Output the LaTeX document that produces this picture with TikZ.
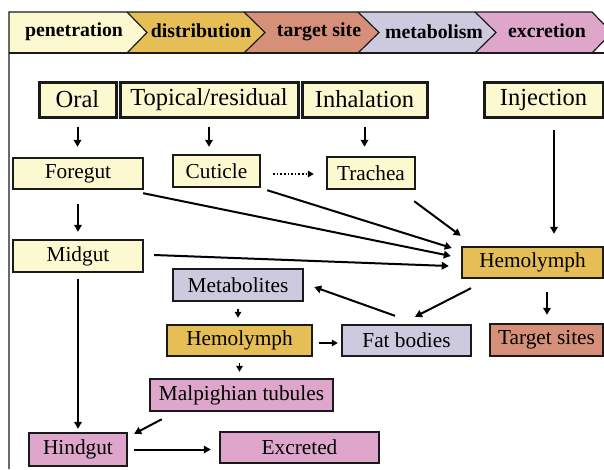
\documentclass[tikz,border=0pt]{standalone}
\usepackage{fontspec}
\setmainfont{Liberation Serif}
\newfontfamily\tnr{Liberation Serif}
\usetikzlibrary{arrows.meta,calc}
\definecolor{cyel}{HTML}{FCF8D0}
\definecolor{cgold}{HTML}{E5BE55}
\definecolor{csalmon}{HTML}{D69079}
\definecolor{clav}{HTML}{CDCADF}
\definecolor{cpink}{HTML}{DEA6CB}
\definecolor{cline}{HTML}{1A1A1A}
\tikzset{
  topbox/.style={draw=cline,line width=3pt,fill=cyel,inner sep=0pt,
    font=\tnr\fontsize{24.5}{27}\selectfont,minimum height=35pt},
  lowbox/.style={draw=cline,line width=2.4pt,inner sep=0pt,
    font=\tnr\fontsize{21.3}{24}\selectfont,minimum height=31pt},
  hdr/.style={draw=cline,line width=1.2pt},
  hdrtext/.style={font=\tnr\fontsize{19.8}{22}\selectfont\bfseries,inner sep=0pt},
  arr/.style={line width=2pt,draw=black,-{Triangle[length=7pt,width=7.5pt]}},
  sarr/.style={line width=1.6pt,draw=black,-{Triangle[length=6pt,width=6.5pt]}},
  dotarr/.style={line width=1.6pt,draw=black,dotted,-{Triangle[length=6pt,width=6.5pt]}}
}
\begin{document}
\begin{tikzpicture}[x=1pt,y=-1pt]
\useasboundingbox (0,0) rectangle (604,469);
% header
\fill[cyel] (9,12) -- (127,12) -- (147,32.5) -- (127,53) -- (9,53) -- cycle;
\fill[cgold] (127,12) -- (244,12) -- (265,32.5) -- (244,53) -- (127,53) -- (147,32.5) -- cycle;
\fill[csalmon] (244,12) -- (358,12) -- (379,32.5) -- (358,53) -- (244,53) -- (265,32.5) -- cycle;
\fill[clav] (358,12) -- (475,12) -- (496,32.5) -- (475,53) -- (358,53) -- (379,32.5) -- cycle;
\fill[cpink] (475,12) -- (592,12) -- (612,32.5) -- (592,53) -- (475,53) -- (496,32.5) -- cycle;
\draw[hdr] (9,469) -- (9,12) -- (592,12) -- (612,32.5);
\draw[hdr] (9,53) -- (604,53);
\draw[hdr] (127,12) -- (147,32.5) -- (127,53);
\draw[hdr] (244,12) -- (265,32.5) -- (244,53);
\draw[hdr] (358,12) -- (379,32.5) -- (358,53);
\draw[hdr] (475,12) -- (496,32.5) -- (475,53);
\draw[hdr] (592,53) -- (612,32.5);
\node[hdrtext] (hpen) at (74,32) {penetration};
\node[hdrtext] (hdis) at (201,31) {distribution};
\node[hdrtext] (htar) at (319,32) {target site};
\node[hdrtext] (hmet) at (434,32) {metabolism};
\node[hdrtext] (hexc) at (547,31) {excretion};
% top row
\node[topbox,minimum width=77pt] (oral) at (77.5,99.5) {Oral};
\node[topbox,minimum width=178pt] (topical) at (209,99.5) {Topical/residual};
\node[topbox,minimum width=125pt] (inhal) at (364.5,99.5) {Inhalation};
\node[topbox,minimum width=119pt] (inject) at (543.5,99.5) {Injection};
% second level
\node[lowbox,fill=cyel,minimum width=130pt] (foregut) at (78,173.5) {Foregut};
\node[lowbox,fill=cyel,minimum width=87pt,minimum height=32pt] (cuticle) at (216.5,171) {Cuticle};
\node[lowbox,fill=cyel,minimum width=88pt,minimum height=32pt] (trachea) at (371,173) {Trachea};
\node[lowbox,fill=cyel,minimum width=130pt,minimum height=32pt] (midgut) at (78,256) {Midgut};
\node[lowbox,fill=cgold,minimum width=141pt] (hemR) at (532.5,262.5) {Hemolymph};
\node[lowbox,fill=clav,minimum width=130pt,minimum height=32pt] (metab) at (238,285) {Metabolites};
\node[lowbox,fill=cgold,minimum width=145pt] (hemL) at (239.5,340.5) {Hemolymph};
\node[lowbox,fill=clav,minimum width=129pt] (fat) at (406.5,340.5) {Fat bodies};
\node[lowbox,fill=csalmon,minimum width=113pt,minimum height=32pt] (target) at (546.5,340) {Target sites};
\node[lowbox,fill=cpink,minimum width=183pt,minimum height=32pt] (malp) at (241.5,395) {Malpighian tubules};
\node[lowbox,fill=cpink,minimum width=98pt,minimum height=33pt] (hindgut) at (78,449.5) {Hindgut};
\node[lowbox,fill=cpink,minimum width=159pt] (excreted) at (299.5,447.5) {Excreted};
% connectors
\draw[arr,shorten <=8pt,shorten >=10pt] (oral.south) -- (oral.south |- foregut.north);
\draw[arr,shorten <=8pt,shorten >=7pt] (topical.south) -- (topical.south |- cuticle.north);
\draw[arr,shorten <=8pt,shorten >=9pt] (inhal.south) -- (inhal.south |- trachea.north);
\draw[arr] ([xshift=10.5pt,yshift=-11pt]inject.south) -- ([xshift=10.5pt,yshift=12pt]inject.south |- hemR.north);
\draw[dotarr] ([xshift=12pt,yshift=-3pt]cuticle.east) -- ([xshift=-12pt,yshift=-1pt]trachea.west);
\draw[arr,shorten <=14pt,shorten >=7pt] (foregut.south) -- (foregut.south |- midgut.north);
\draw[arr] ([xshift=-2pt,yshift=-11pt]trachea.south east) -- ([yshift=10pt]hemR.north west);
\draw[arr] ([xshift=6pt,yshift=-2pt]cuticle.south east) -- ([xshift=-9pt,yshift=14.5pt]hemR.west);
\draw[arr] ([xshift=-1pt,yshift=-3pt]foregut.south east) -- ([xshift=-10pt,yshift=6.5pt]hemR.west);
\draw[arr] ([xshift=10pt,yshift=1pt]midgut.east) -- ([xshift=-12pt,yshift=-3.5pt]hemR.west);
\draw[arr] ([xshift=-61.5pt,yshift=-9pt]hemR.south) -- ([xshift=8.5pt,yshift=7pt]fat.north);
\draw[arr] ([xshift=-11.5pt,yshift=8pt]fat.north) -- ([xshift=10pt,yshift=-2pt]metab.east);
\draw[arr] ([xshift=14.5pt,yshift=-13pt]hemR.south) -- ([xshift=0.5pt,yshift=8pt]target.north);
\draw[sarr] ([xshift=6pt,yshift=-2.5pt]hemL.east) -- ([xshift=-3pt,yshift=-2.5pt]fat.west);
\draw[sarr,shorten <=7pt,shorten >=6pt] (metab.south) -- (metab.south |- hemL.north);
\draw[sarr,shorten <=6pt,shorten >=6pt] (hemL.south) -- (hemL.south |- malp.north);
\draw[arr,shorten <=6pt,shorten >=3pt] (midgut.south) -- (midgut.south |- hindgut.north);
\draw[arr] ([xshift=13pt,yshift=-7pt]malp.south west) -- ([xshift=6pt,yshift=-2pt]hindgut.north east);
\draw[arr] ([xshift=6pt]hindgut.east) -- ([xshift=-8pt]hindgut.east -| excreted.west);
\end{tikzpicture}
\end{document}
